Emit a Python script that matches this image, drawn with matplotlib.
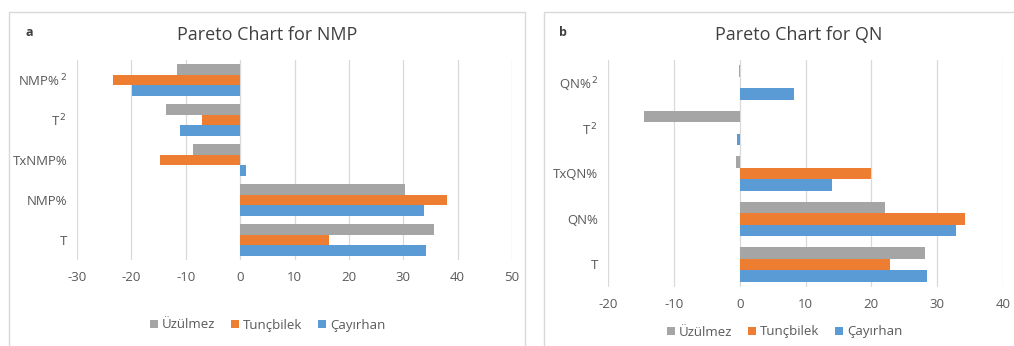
import numpy as np
import matplotlib
matplotlib.use('Agg')
import matplotlib.pyplot as plt
from matplotlib.patches import Rectangle

plt.rcParams['font.family'] = ['Open Sans', 'DejaVu Sans']

series = ['Üzülmez', 'Tunçbilek', 'Çayırhan']
colors = ['#A5A5A5', '#ED7D31', '#5B9BD5']

# categories listed bottom -> top
cats_nmp = ['T', 'NMP%', 'TxNMP%', 'T$^{\\,2}$', 'NMP%$^{\\,2}$']
uzulmez_nmp = [35.7, 30.3, -8.7, -13.6, -11.6]
tuncbilek_nmp = [16.4, 38.1, -14.8, -7.0, -23.3]
cayirhan_nmp = [34.1, 33.9, 1.1, -11.0, -19.8]

cats_qn = ['T', 'QN%', 'TxQN%', 'T$^{\\,2}$', 'QN%$^{\\,2}$']
uzulmez_qn = [28.1, 22.1, -0.6, -14.5, -0.1]
tuncbilek_qn = [22.8, 34.2, 20.0, 0.0, 0.0]
cayirhan_qn = [28.4, 32.9, 14.1, -0.4, 8.3]

W, H = 1014, 346
fig = plt.figure(figsize=(W / 100, H / 100), dpi=100)

def px(x0, y0, x1, y1):
    return [x0 / W, 1 - y1 / H, (x1 - x0) / W, (y1 - y0) / H]

# panel frames
for (x0, x1) in [(9, 525), (544, 1020)]:
    fig.patches.append(Rectangle((x0 / W, -0.05), (x1 - x0) / W, 1.05 - 12 / H,
                                 transform=fig.transFigure, fill=False,
                                 edgecolor='#D9D9D9', lw=1))

def panel(rect, cats, vals, xlim, ticks, title, title_x, letter, letter_x, leg_y, leg_x, h):
    ax = fig.add_axes(px(*rect))
    y = np.arange(len(cats))
    for i, (v, c) in enumerate(zip(vals, colors)):
        ax.barh(y + (1 - i) * h, v, height=h, color=c, zorder=3, label=series[i])
    ax.set_xlim(*xlim)
    ax.set_ylim(-0.5, len(cats) - 0.5)
    ax.set_xticks(ticks)
    ax.set_xticklabels([str(t) for t in ticks])
    ax.set_yticks(y)
    ax.set_yticklabels(cats)
    ax.tick_params(length=0, colors='#595959', labelsize=9.5)
    ax.tick_params(axis='x', pad=8)
    ax.tick_params(axis='y', pad=7)
    ax.grid(axis='x', color='#D9D9D9', lw=0.9, zorder=0)
    for s in ax.spines.values():
        s.set_visible(False)
    fig.text(title_x / W, 1 - 35 / H, title, ha='center', va='center',
             fontsize=13, color='#404040')
    fig.text(letter_x / W, 1 - 33 / H, letter, ha='center', va='center',
             fontsize=9, fontweight='bold', color='#404040')
    handles, labels = ax.get_legend_handles_labels()
    fig.legend(handles, labels, loc='center', bbox_to_anchor=(leg_x / W, 1 - leg_y / H),
               ncol=3, frameon=False, fontsize=9.5, labelcolor='#595959',
               handlelength=0.6, handleheight=0.6, handletextpad=0.3, columnspacing=1.2)
    return ax

panel((77, 60, 512, 260), cats_nmp, [uzulmez_nmp, tuncbilek_nmp, cayirhan_nmp],
      (-30, 50), [-30, -20, -10, 0, 10, 20, 30, 40, 50],
      'Pareto Chart for NMP', 267, 'a', 29, 325, 268, 0.267)
panel((608, 60, 1003, 287), cats_qn, [uzulmez_qn, tuncbilek_qn, cayirhan_qn],
      (-20, 40), [-20, -10, 0, 10, 20, 30, 40],
      'Pareto Chart for QN', 799, 'b', 563, 332, 785, 0.255)

fig.savefig('out.png', dpi=100)
